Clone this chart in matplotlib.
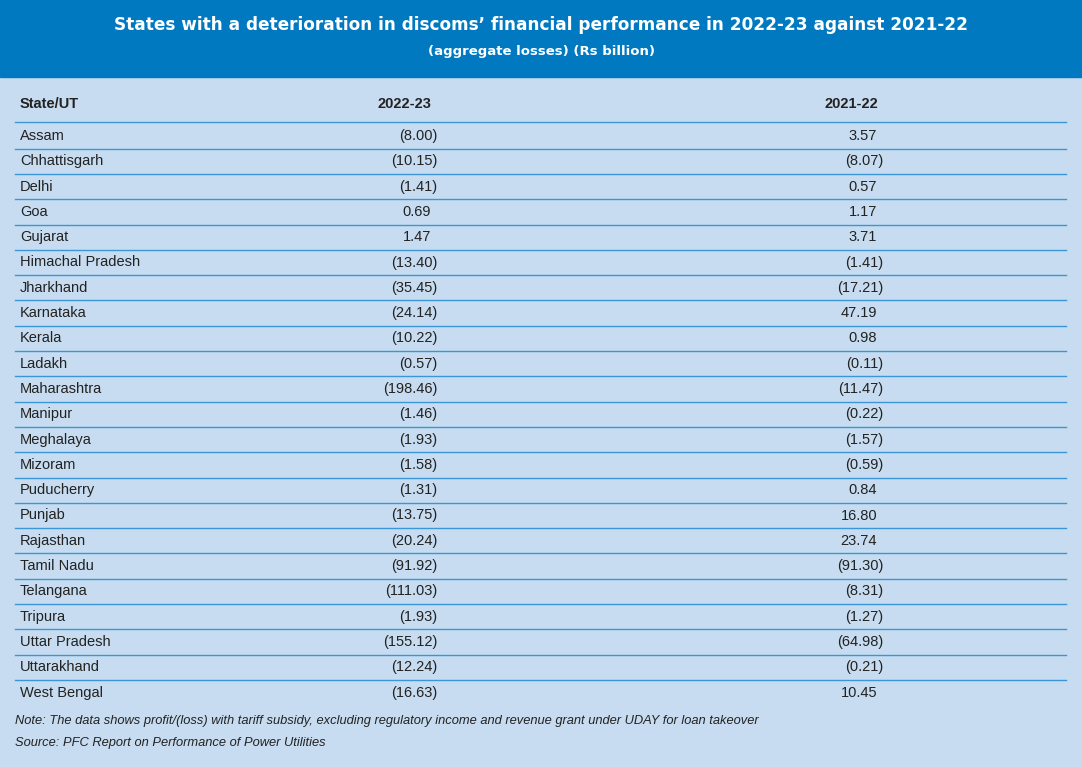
import matplotlib.pyplot as plt
from matplotlib.patches import Rectangle

states = ["Assam", "Chhattisgarh", "Delhi", "Goa", "Gujarat", "Himachal Pradesh",
          "Jharkhand", "Karnataka", "Kerala", "Ladakh", "Maharashtra", "Manipur",
          "Meghalaya", "Mizoram", "Puducherry", "Punjab", "Rajasthan", "Tamil Nadu",
          "Telangana", "Tripura", "Uttar Pradesh", "Uttarakhand", "West Bengal"]
fy2023 = [-8.00, -10.15, -1.41, 0.69, 1.47, -13.40, -35.45, -24.14, -10.22, -0.57,
          -198.46, -1.46, -1.93, -1.58, -1.31, -13.75, -20.24, -91.92, -111.03,
          -1.93, -155.12, -12.24, -16.63]
fy2022 = [3.57, -8.07, 0.57, 1.17, 3.71, -1.41, -17.21, 47.19, 0.98, -0.11, -11.47,
          -0.22, -1.57, -0.59, 0.84, 16.80, 23.74, -91.30, -8.31, -1.27, -64.98,
          -0.21, 10.45]
headers = ["State/UT", "2022-23", "2021-22"]

W, H = 1082, 767
fig = plt.figure(figsize=(W / 100, H / 100), dpi=100)
ax = fig.add_axes([0, 0, 1, 1])
ax.set_xlim(0, W)
ax.set_ylim(H, 0)
ax.axis("off")

ax.add_patch(Rectangle((0, 0), W, H, color="#c7dcf0"))
ax.add_patch(Rectangle((0, 0), W, 77, color="#0079c1"))

cond = ["Liberation Sans Narrow", "DejaVu Sans"]
ax.text(541, 25, "States with a deterioration in discoms\u2019 financial performance in 2022-23 against 2021-22",
        ha="center", va="center", color="white", fontsize=12.2, fontweight="bold", family=cond)
ax.text(541, 52, "(aggregate losses) (Rs billion)", ha="center", va="center",
        color="white", fontsize=9.5, fontweight="bold", family=cond)

font = ["Liberation Sans", "DejaVu Sans"]
ax.text(20, 104, headers[0], ha="left", va="center", fontsize=10.5, fontweight="bold", color="#222222", family=font)
ax.text(404, 104, headers[1], ha="center", va="center", fontsize=10.5, fontweight="bold", color="#222222", family=font)
ax.text(851, 104, headers[2], ha="center", va="center", fontsize=10.5, fontweight="bold", color="#222222", family=font)

def fmt(v):
    return f"({abs(v):.2f})" if v < 0 else f"{v:.2f}"

row_h = 25.3
y0 = 136
ax.plot([15, 1066], [122, 122], color="#3a96d6", lw=1)
for i, s in enumerate(states):
    y = y0 + i * row_h
    ax.text(20, y, s, ha="left", va="center", fontsize=10.5, color="#222222", family=font)
    for x, v in ((437, fy2023[i]), (883, fy2022[i])):
        xx = x if v < 0 else x - 6
        ax.text(xx, y, fmt(v), ha="right", va="center", fontsize=10.5, color="#222222", family=font)
    if i < len(states) - 1:
        ax.plot([15, 1066], [y + row_h / 2, y + row_h / 2], color="#3a96d6", lw=1)

ax.text(15, 721, "Note: The data shows profit/(loss) with tariff subsidy, excluding regulatory income and revenue grant under UDAY for loan takeover",
        ha="left", va="center", fontsize=9.3, style="italic", color="#222222", family=font)
ax.text(15, 743, "Source: PFC Report on Performance of Power Utilities",
        ha="left", va="center", fontsize=9.3, style="italic", color="#222222", family=font)

fig.savefig("out.png", dpi=100)
